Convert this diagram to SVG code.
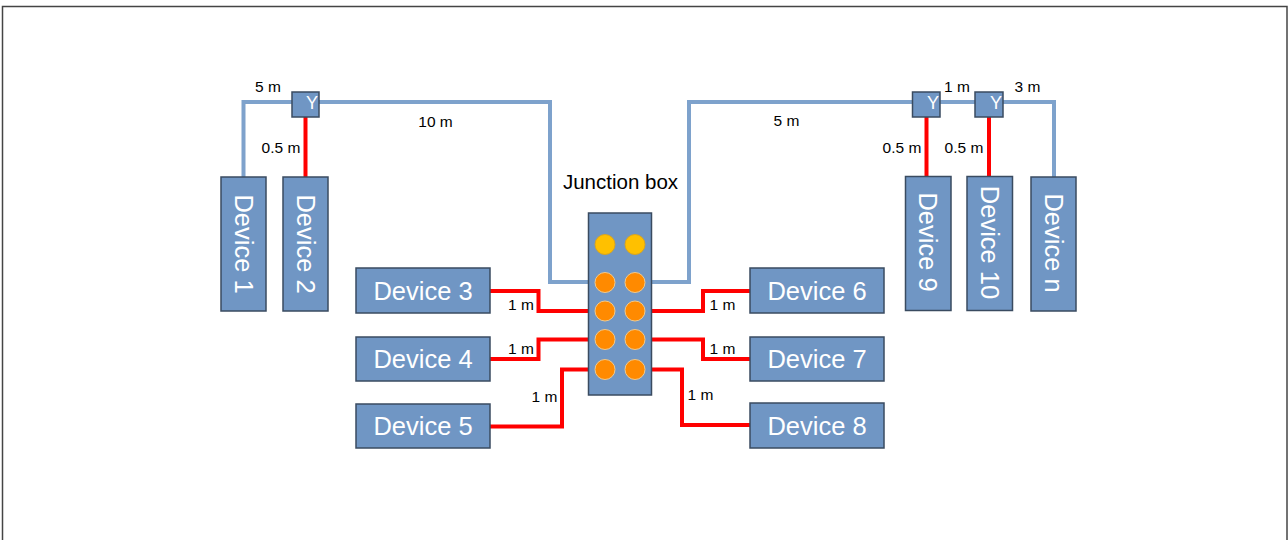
<svg xmlns="http://www.w3.org/2000/svg" width="1288" height="540" viewBox="0 0 1288 540">
<style>
.box{fill:#7096c4;stroke:#3a4b60;stroke-width:1.5}
.dev{font-family:"Liberation Sans",Arial,sans-serif;font-size:25.5px;fill:#ffffff;text-anchor:middle}
.y{font-family:"Liberation Sans",Arial,sans-serif;font-size:18px;fill:#ffffff;text-anchor:end}
.lbl{font-family:"Liberation Sans",Arial,sans-serif;font-size:15.5px;fill:#000000;text-anchor:middle}
.blue{fill:none;stroke:#7ea2cc;stroke-width:4}
.red{fill:none;stroke:#ff0000;stroke-width:4}
.yel{fill:#ffc000;stroke:#d9a520;stroke-width:1}
.org{fill:#ff8a00;stroke:#f2c98a;stroke-width:1}
</style>
<rect x="2.5" y="6.5" width="1284.5" height="600" fill="#ffffff" stroke="#444444" stroke-width="1.5"/>
<g id="connectors">
<path class="blue" d="M243.5 177 V102 H550 V282 H595"/>
<path class="blue" d="M645 282 H689 V102 H1054 V177"/>
<path class="red" d="M305.5 117 V177"/>
<path class="red" d="M926.5 117 V177"/>
<path class="red" d="M989 117 V177"/>
<path class="red" d="M490 291 H538.5 V311 H595"/>
<path class="red" d="M490 359 H538.5 V339.5 H595"/>
<path class="red" d="M490 426.5 H562 V369.5 H595"/>
<path class="red" d="M645 311 H703 V291 H750"/>
<path class="red" d="M645 339.5 H703 V359 H750"/>
<path class="red" d="M645 369.5 H682 V425 H750"/>
<text class="lbl" x="268" y="91.5">5 m</text>
<text class="lbl" x="281" y="153">0.5 m</text>
<text class="lbl" x="435.5" y="127">10 m</text>
<text class="lbl" x="786.5" y="126">5 m</text>
<text class="lbl" x="957" y="92">1 m</text>
<text class="lbl" x="1027.5" y="92">3 m</text>
<text class="lbl" x="902" y="153">0.5 m</text>
<text class="lbl" x="964" y="153">0.5 m</text>
<text class="lbl" x="521" y="309.5">1 m</text>
<text class="lbl" x="521" y="353.5">1 m</text>
<text class="lbl" x="544.5" y="402">1 m</text>
<text class="lbl" x="722.5" y="309.5">1 m</text>
<text class="lbl" x="722.5" y="353.5">1 m</text>
<text class="lbl" x="700.5" y="400">1 m</text>
</g>
<g id="junction-box">
<rect class="box" x="588.5" y="213" width="63" height="182"/>
<circle class="yel" cx="605" cy="244.5" r="10"/>
<circle class="yel" cx="635" cy="244.5" r="10"/>
<circle class="org" cx="605" cy="282.5" r="10"/>
<circle class="org" cx="635" cy="282.5" r="10"/>
<circle class="org" cx="605" cy="311" r="10"/>
<circle class="org" cx="635" cy="311" r="10"/>
<circle class="org" cx="605" cy="339.5" r="10"/>
<circle class="org" cx="635" cy="339.5" r="10"/>
<circle class="org" cx="605" cy="369.5" r="10"/>
<circle class="org" cx="635" cy="369.5" r="10"/>
<text x="620.5" y="189" font-family="Liberation Sans, Arial, sans-serif" font-size="20.5px" fill="#000000" text-anchor="middle">Junction box</text>
</g>
<g id="y1"><rect class="box" x="292" y="92" width="27" height="25"/><text class="y" x="318" y="108.5">Y</text></g>
<g id="y2"><rect class="box" x="912.5" y="92" width="27.5" height="25"/><text class="y" x="939" y="108.5">Y</text></g>
<g id="y3"><rect class="box" x="975" y="92" width="28" height="25"/><text class="y" x="1002" y="108.5">Y</text></g>
<g id="device1"><rect class="box" x="221" y="177" width="45" height="134"/><text class="dev" x="243.5" y="253" transform="rotate(90 243.5 244)">Device 1</text></g>
<g id="device2"><rect class="box" x="283" y="177" width="45" height="134"/><text class="dev" x="305.5" y="253" transform="rotate(90 305.5 244)">Device 2</text></g>
<g id="device9"><rect class="box" x="905.5" y="176.5" width="45.5" height="134"/><text class="dev" x="928" y="251" transform="rotate(90 928 242)">Device 9</text></g>
<g id="device10"><rect class="box" x="967" y="176.5" width="45.5" height="134"/><text class="dev" x="989.5" y="251.5" transform="rotate(90 989.5 242.5)">Device 10</text></g>
<g id="devicen"><rect class="box" x="1031" y="177" width="45" height="134"/><text class="dev" x="1053.5" y="252" transform="rotate(90 1053.5 243)">Device n</text></g>
<g id="device3"><rect class="box" x="356" y="268" width="134" height="45"/><text class="dev" x="423" y="299.5">Device 3</text></g>
<g id="device4"><rect class="box" x="356" y="337" width="134" height="44"/><text class="dev" x="423" y="368">Device 4</text></g>
<g id="device5"><rect class="box" x="356" y="404" width="134" height="44"/><text class="dev" x="423" y="435">Device 5</text></g>
<g id="device6"><rect class="box" x="750" y="268" width="134" height="45"/><text class="dev" x="817" y="299.5">Device 6</text></g>
<g id="device7"><rect class="box" x="750" y="337" width="134" height="44"/><text class="dev" x="817" y="368">Device 7</text></g>
<g id="device8"><rect class="box" x="750" y="403" width="134" height="45"/><text class="dev" x="817" y="434.5">Device 8</text></g>
</svg>
